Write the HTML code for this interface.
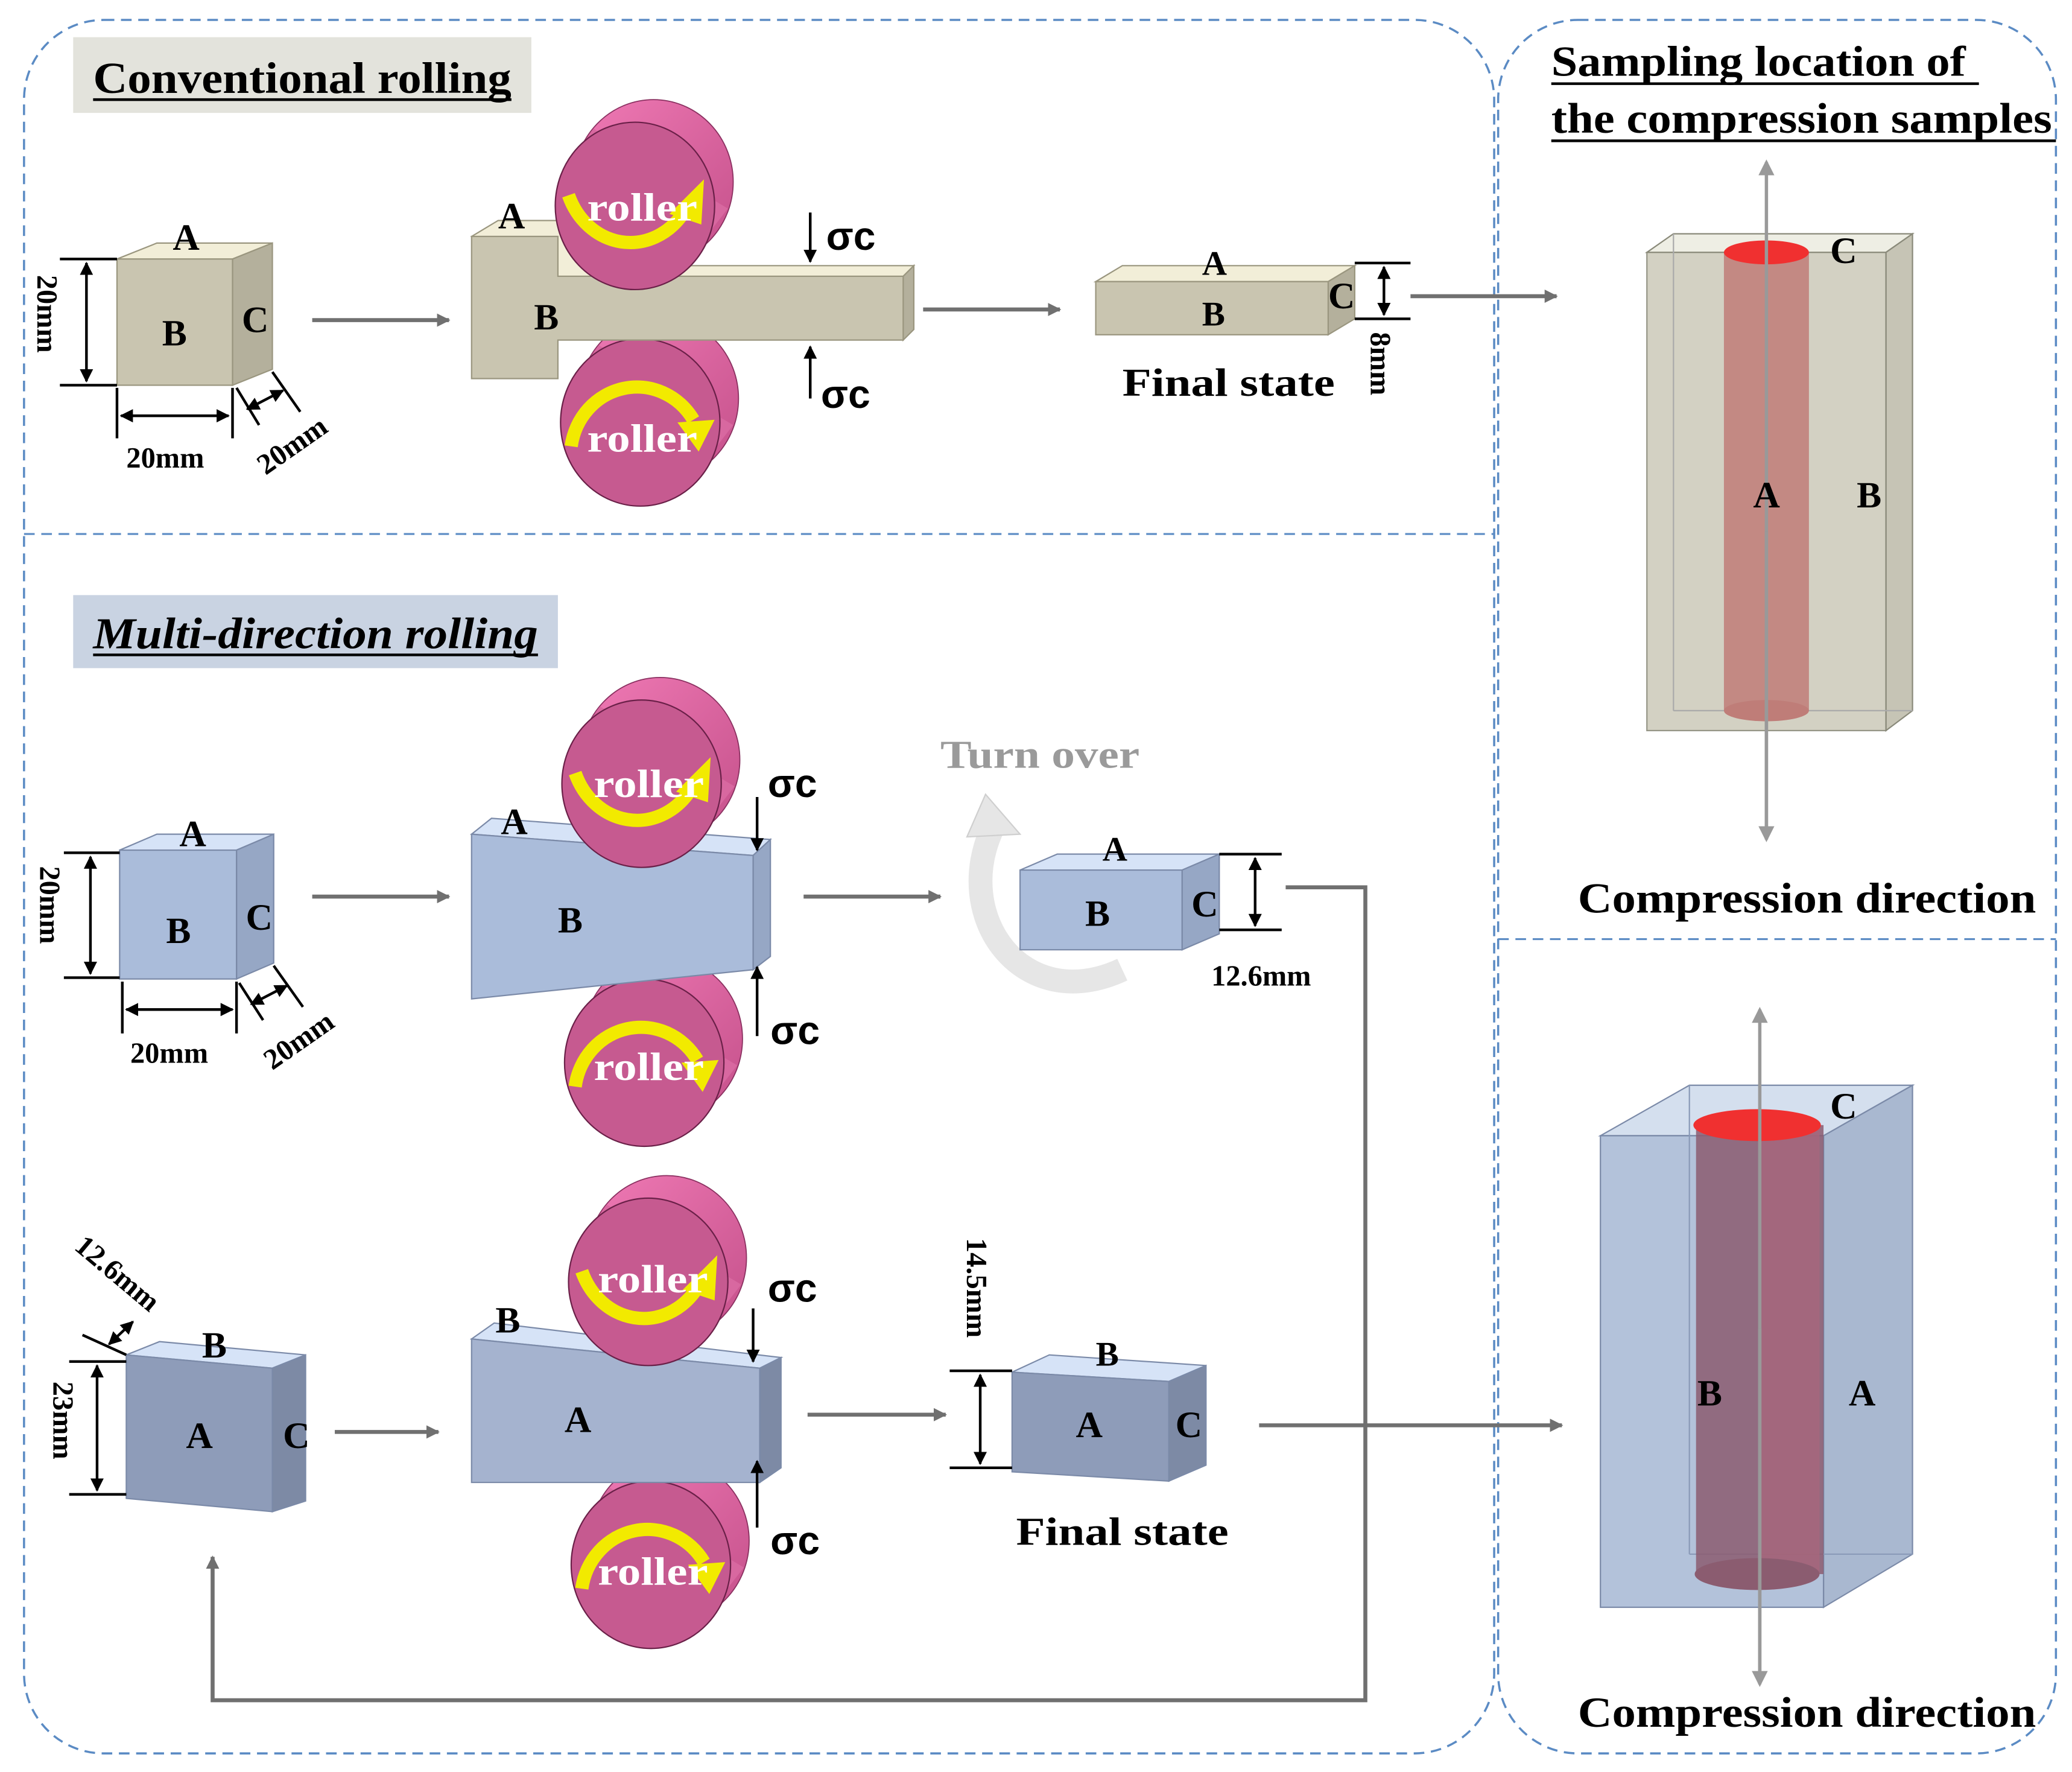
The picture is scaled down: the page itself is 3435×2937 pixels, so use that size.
<!DOCTYPE html>
<html><head><meta charset="utf-8"><style>
html,body{margin:0;padding:0;background:#fff;}
svg{display:block;}
text{font-family:"Liberation Serif",serif;font-weight:bold;}
.s{font-family:"Liberation Sans",sans-serif;}
</style></head><body>
<svg width="3435" height="2937" viewBox="0 0 1560 1334" xmlns="http://www.w3.org/2000/svg">
<defs>
<marker id="ah" markerWidth="10" markerHeight="10" refX="9" refY="5" orient="auto" markerUnits="userSpaceOnUse"><path d="M0,0 L10,5 L0,10 z" fill="#707070"/></marker>
<marker id="ak" markerWidth="10" markerHeight="10" refX="9" refY="5" orient="auto-start-reverse" markerUnits="userSpaceOnUse"><path d="M0,0 L10,5 L0,10 z" fill="#000"/></marker>
<marker id="ag" markerWidth="12" markerHeight="12" refX="10" refY="6" orient="auto" markerUnits="userSpaceOnUse"><path d="M0,0 L12,6 L0,12 z" fill="#999"/></marker>
<linearGradient id="bk" x1="0" y1="0" x2="1" y2="1"><stop offset="0" stop-color="#f07ab5"/><stop offset="1" stop-color="#c4508a"/></linearGradient>
<g id="roll">
 <ellipse cx="14" cy="-18" rx="60" ry="62" fill="url(#bk)" stroke="#8a3060" stroke-width="0.8"/>
 <polygon points="-45,-40 -31,-58 70,2 56,20" fill="#d868a0"/>
 <ellipse cx="0" cy="0" rx="60" ry="63" fill="#c65a90" stroke="#6a2048" stroke-width="1"/>
</g>
<g id="arrT">
 <path d="M-50,-8 A50,56 0 0 0 36,6" fill="none" stroke="#f2ea00" stroke-width="10"/>
 <polygon points="26,6 52,-20 50,14" fill="#f2ea00"/>
</g>
<g id="arrB">
 <path d="M-52,18 A50,52 0 0 1 40,-2" fill="none" stroke="#f2ea00" stroke-width="10"/>
 <polygon points="28,0 56,-2 44,22" fill="#f2ea00"/>
</g>
</defs>
<rect width="1560" height="1334" fill="#fff"/>
<!-- panels -->
<rect x="18" y="15" width="1107" height="1305" rx="60" fill="none" stroke="#5b8bc4" stroke-width="1.6" stroke-dasharray="8,5"/>
<rect x="1128" y="15" width="420" height="1305" rx="60" fill="none" stroke="#5b8bc4" stroke-width="1.6" stroke-dasharray="8,5"/>
<line x1="18" y1="402" x2="1125" y2="402" stroke="#5b8bc4" stroke-width="1.4" stroke-dasharray="8,5"/>
<line x1="1128" y1="707" x2="1548" y2="707" stroke="#5b8bc4" stroke-width="1.4" stroke-dasharray="8,5"/>

<!-- titles -->
<rect x="55" y="28" width="345" height="57" fill="#e3e3dc"/>
<text x="70" y="70" font-size="33" textLength="315" lengthAdjust="spacingAndGlyphs">Conventional rolling</text>
<line x1="70" y1="75" x2="385" y2="75" stroke="#000" stroke-width="2"/>
<rect x="55" y="448" width="365" height="55" fill="#c9d3e2"/>
<text x="70" y="488" font-size="33" font-style="italic" textLength="335" lengthAdjust="spacingAndGlyphs">Multi-direction rolling</text>
<line x1="70" y1="493" x2="405" y2="493" stroke="#000" stroke-width="2"/>
<text x="1168" y="57" font-size="32" textLength="312" lengthAdjust="spacingAndGlyphs">Sampling location of</text>
<line x1="1168" y1="63" x2="1490" y2="63" stroke="#000" stroke-width="2"/>
<text x="1168" y="100" font-size="32" textLength="377" lengthAdjust="spacingAndGlyphs">the compression samples</text>
<line x1="1168" y1="106" x2="1548" y2="106" stroke="#000" stroke-width="2"/>

<!-- ===== Conventional ===== -->
<g stroke="#9a967f" stroke-width="1">
<polygon points="88,195 118,183 205,183 175,195" fill="#f2eed8"/>
<polygon points="175,195 205,183 205,278 175,290" fill="#b4b09c"/>
<rect x="88" y="195" width="87" height="95" fill="#c9c5b0"/>
</g>
<text x="130" y="188" font-size="28">A</text>
<text x="122" y="260" font-size="28">B</text>
<text x="182" y="250" font-size="28">C</text>
<g stroke="#000" stroke-width="2" fill="none">
<line x1="45" y1="195" x2="88" y2="195"/><line x1="45" y1="290" x2="88" y2="290"/>
<line x1="65" y1="198" x2="65" y2="287" marker-start="url(#ak)" marker-end="url(#ak)"/>
<line x1="88" y1="292" x2="88" y2="330"/><line x1="175" y1="292" x2="175" y2="330"/>
<line x1="91" y1="313" x2="172" y2="313" marker-start="url(#ak)" marker-end="url(#ak)"/>
<line x1="178" y1="292" x2="195" y2="320"/><line x1="205" y1="280" x2="226" y2="310"/>
<line x1="186" y1="308" x2="213" y2="294" marker-start="url(#ak)" marker-end="url(#ak)"/>
</g>
<text x="0" y="0" font-size="22" transform="translate(28,207) rotate(90)">20mm</text>
<text x="95" y="352" font-size="22">20mm</text>
<text x="0" y="0" font-size="22" transform="translate(200,358) rotate(-35)">20mm</text>
<line x1="235" y1="241" x2="338" y2="241" stroke="#707070" stroke-width="3" marker-end="url(#ah)"/>

<!-- conventional slab -->
<use href="#roll" x="482" y="318"/>
<g stroke="#9a967f" stroke-width="1">
<polygon points="355,178 375,166 440,166 440,200 688,200 680,208 420,208" fill="#f2eed8"/>
<polygon points="680,208 688,200 688,248 680,256" fill="#b4b09c"/>
<polygon points="355,178 420,178 420,208 680,208 680,256 420,256 420,285 355,285" fill="#c9c5b0"/>
</g>
<use href="#roll" x="478" y="155"/>
<use href="#arrT" x="478" y="155"/>
<use href="#arrB" x="482" y="318"/>
<text x="442" y="166" font-size="30" fill="#fff" textLength="83" lengthAdjust="spacingAndGlyphs">roller</text>
<text x="442" y="340" font-size="30" fill="#fff" textLength="83" lengthAdjust="spacingAndGlyphs">roller</text>
<text x="375" y="172" font-size="28">A</text>
<text x="402" y="248" font-size="28">B</text>
<line x1="610" y1="160" x2="610" y2="197" stroke="#000" stroke-width="2" marker-end="url(#ak)"/>
<line x1="610" y1="300" x2="610" y2="261" stroke="#000" stroke-width="2" marker-end="url(#ak)"/>
<text x="622" y="188" font-size="30" class="s">σc</text>
<text x="618" y="307" font-size="30" class="s">σc</text>
<line x1="695" y1="233" x2="798" y2="233" stroke="#707070" stroke-width="3" marker-end="url(#ah)"/>

<!-- conventional final -->
<g stroke="#9a967f" stroke-width="1">
<polygon points="825,212 845,200 1020,200 1000,212" fill="#f2eed8"/>
<polygon points="1000,212 1020,200 1020,240 1000,252" fill="#b4b09c"/>
<rect x="825" y="212" width="175" height="40" fill="#c9c5b0"/>
</g>
<text x="905" y="207" font-size="26">A</text>
<text x="905" y="245" font-size="26">B</text>
<text x="1000" y="232" font-size="28">C</text>
<g stroke="#000" stroke-width="2"><line x1="1020" y1="198" x2="1062" y2="198"/><line x1="1020" y1="240" x2="1062" y2="240"/>
<line x1="1042" y1="201" x2="1042" y2="237" marker-start="url(#ak)" marker-end="url(#ak)"/></g>
<text x="0" y="0" font-size="22" transform="translate(1032,250) rotate(90)">8mm</text>
<text x="845" y="298" font-size="30" textLength="160" lengthAdjust="spacingAndGlyphs">Final state</text>
<line x1="1062" y1="223" x2="1172" y2="223" stroke="#707070" stroke-width="3" marker-end="url(#ah)"/>

<!-- ===== Multi row 1 ===== -->
<g stroke="#7b8aa8" stroke-width="1">
<polygon points="90,640 118,628 206,628 178,640" fill="#d6e3f7"/>
<polygon points="178,640 206,628 206,725 178,737" fill="#96a7c5"/>
<rect x="90" y="640" width="88" height="97" fill="#aabcda"/>
</g>
<text x="135" y="637" font-size="28">A</text>
<text x="125" y="710" font-size="28">B</text>
<text x="185" y="700" font-size="28">C</text>
<g stroke="#000" stroke-width="2" fill="none">
<line x1="48" y1="642" x2="90" y2="642"/><line x1="48" y1="736" x2="90" y2="736"/>
<line x1="68" y1="645" x2="68" y2="733" marker-start="url(#ak)" marker-end="url(#ak)"/>
<line x1="92" y1="739" x2="92" y2="778"/><line x1="178" y1="739" x2="178" y2="778"/>
<line x1="95" y1="760" x2="175" y2="760" marker-start="url(#ak)" marker-end="url(#ak)"/>
<line x1="180" y1="740" x2="198" y2="768"/><line x1="206" y1="727" x2="228" y2="758"/>
<line x1="189" y1="756" x2="216" y2="742" marker-start="url(#ak)" marker-end="url(#ak)"/>
</g>
<text x="0" y="0" font-size="22" transform="translate(30,652) rotate(90)">20mm</text>
<text x="98" y="800" font-size="22">20mm</text>
<text x="0" y="0" font-size="22" transform="translate(205,806) rotate(-35)">20mm</text>
<line x1="235" y1="675" x2="338" y2="675" stroke="#707070" stroke-width="3" marker-end="url(#ah)"/>

<use href="#roll" x="485" y="800"/>
<g stroke="#7b8aa8" stroke-width="1">
<polygon points="355,628 370,616 580,632 567,644" fill="#d6e3f7"/>
<polygon points="567,644 580,632 580,720 567,730" fill="#96a7c5"/>
<polygon points="355,628 567,644 567,730 355,752" fill="#aabcda"/>
</g>
<use href="#roll" x="483" y="590"/>
<use href="#arrT" x="483" y="590"/>
<use href="#arrB" x="485" y="800"/>
<text x="447" y="600" font-size="30" fill="#fff" textLength="83" lengthAdjust="spacingAndGlyphs">roller</text>
<text x="447" y="813" font-size="30" fill="#fff" textLength="83" lengthAdjust="spacingAndGlyphs">roller</text>
<text x="377" y="628" font-size="28">A</text>
<text x="420" y="702" font-size="28">B</text>
<line x1="570" y1="600" x2="570" y2="640" stroke="#000" stroke-width="2" marker-end="url(#ak)"/>
<line x1="570" y1="780" x2="570" y2="728" stroke="#000" stroke-width="2" marker-end="url(#ak)"/>
<text x="578" y="600" font-size="30" class="s">σc</text>
<text x="580" y="786" font-size="30" class="s">σc</text>
<line x1="605" y1="675" x2="708" y2="675" stroke="#707070" stroke-width="3" marker-end="url(#ah)"/>

<text x="708" y="578" font-size="30" fill="#9a9a9a" textLength="150" lengthAdjust="spacingAndGlyphs">Turn over</text>
<path d="M845,730 C770,765 715,690 748,622" fill="none" stroke="#e6e6e6" stroke-width="18"/>
<polygon points="728,630 742,598 768,628" fill="#e6e6e6" stroke="#cfcfcf"/>
<g stroke="#7b8aa8" stroke-width="1">
<polygon points="768,655 796,643 918,643 890,655" fill="#d6e3f7"/>
<polygon points="890,655 918,643 918,703 890,715" fill="#96a7c5"/>
<rect x="768" y="655" width="122" height="60" fill="#aabcda"/>
</g>
<text x="830" y="648" font-size="26">A</text>
<text x="817" y="697" font-size="28">B</text>
<text x="897" y="690" font-size="28">C</text>
<g stroke="#000" stroke-width="2"><line x1="918" y1="643" x2="965" y2="643"/><line x1="918" y1="700" x2="965" y2="700"/>
<line x1="945" y1="646" x2="945" y2="697" marker-start="url(#ak)" marker-end="url(#ak)"/></g>
<text x="912" y="742" font-size="22">12.6mm</text>
<polyline points="968,668 1028,668 1028,1280 160,1280 160,1172" fill="none" stroke="#707070" stroke-width="3" marker-end="url(#ah)"/>

<!-- ===== Multi row 2 ===== -->
<g stroke="#7b8aa8" stroke-width="1">
<polygon points="95,1020 120,1010 230,1020 205,1030" fill="#d6e3f7"/>
<polygon points="205,1030 230,1020 230,1130 205,1138" fill="#7d8aa5"/>
<polygon points="95,1020 205,1030 205,1138 95,1128" fill="#8e9cb9"/>
</g>
<text x="152" y="1022" font-size="28">B</text>
<text x="140" y="1090" font-size="28">A</text>
<text x="213" y="1090" font-size="28">C</text>
<g stroke="#000" stroke-width="2" fill="none">
<line x1="52" y1="1025" x2="95" y2="1025"/><line x1="52" y1="1125" x2="95" y2="1125"/>
<line x1="73" y1="1028" x2="73" y2="1122" marker-start="url(#ak)" marker-end="url(#ak)"/>
<line x1="62" y1="1005" x2="95" y2="1020"/>
<line x1="82" y1="1012" x2="100" y2="995" marker-start="url(#ak)" marker-end="url(#ak)"/>
</g>
<text x="0" y="0" font-size="22" transform="translate(55,940) rotate(40)">12.6mm</text>
<text x="0" y="0" font-size="22" transform="translate(40,1040) rotate(90)">23mm</text>
<line x1="252" y1="1078" x2="330" y2="1078" stroke="#707070" stroke-width="3" marker-end="url(#ah)"/>

<use href="#roll" x="490" y="1178"/>
<g stroke="#7b8aa8" stroke-width="1">
<polygon points="355,1008 372,996 588,1022 572,1030" fill="#d6e3f7"/>
<polygon points="572,1030 588,1022 588,1105 572,1116" fill="#7d8aa5"/>
<polygon points="355,1008 572,1030 572,1116 355,1116" fill="#a5b3cf"/>
</g>
<use href="#roll" x="488" y="965"/>
<use href="#arrT" x="488" y="965"/>
<use href="#arrB" x="490" y="1178"/>
<text x="450" y="973" font-size="30" fill="#fff" textLength="83" lengthAdjust="spacingAndGlyphs">roller</text>
<text x="450" y="1193" font-size="30" fill="#fff" textLength="83" lengthAdjust="spacingAndGlyphs">roller</text>
<text x="373" y="1003" font-size="28">B</text>
<text x="425" y="1078" font-size="28">A</text>
<line x1="567" y1="985" x2="567" y2="1025" stroke="#000" stroke-width="2" marker-end="url(#ak)"/>
<line x1="570" y1="1150" x2="570" y2="1100" stroke="#000" stroke-width="2" marker-end="url(#ak)"/>
<text x="578" y="980" font-size="30" class="s">σc</text>
<text x="580" y="1170" font-size="30" class="s">σc</text>
<line x1="608" y1="1065" x2="712" y2="1065" stroke="#707070" stroke-width="3" marker-end="url(#ah)"/>

<g stroke="#7b8aa8" stroke-width="1">
<polygon points="762,1033 790,1020 908,1028 880,1040" fill="#d6e3f7"/>
<polygon points="880,1040 908,1028 908,1103 880,1115" fill="#7d8aa5"/>
<polygon points="762,1033 880,1040 880,1115 762,1108" fill="#8e9cb9"/>
</g>
<text x="825" y="1028" font-size="26">B</text>
<text x="810" y="1082" font-size="28">A</text>
<text x="885" y="1082" font-size="28">C</text>
<g stroke="#000" stroke-width="2"><line x1="715" y1="1032" x2="762" y2="1032"/><line x1="715" y1="1105" x2="762" y2="1105"/>
<line x1="738" y1="1035" x2="738" y2="1102" marker-start="url(#ak)" marker-end="url(#ak)"/></g>
<text x="0" y="0" font-size="22" transform="translate(728,932) rotate(90)">14.5mm</text>
<text x="765" y="1163" font-size="30" textLength="160" lengthAdjust="spacingAndGlyphs">Final state</text>
<line x1="948" y1="1073" x2="1176" y2="1073" stroke="#707070" stroke-width="3" marker-end="url(#ah)"/>

<!-- ===== right samples ===== -->
<g>
<polygon points="1240,190 1260,176 1440,176 1420,190" fill="#eeeee4" stroke="#8a8a7a"/>
<polygon points="1420,190 1440,176 1440,535 1420,550" fill="#c6c4b5" stroke="#8a8a7a"/>
<rect x="1240" y="190" width="180" height="360" fill="#cfcdbd" stroke="#8a8a7a" opacity="0.9"/>
<line x1="1260" y1="176" x2="1260" y2="535" stroke="#aaa"/><line x1="1260" y1="535" x2="1440" y2="535" stroke="#aaa"/>
<rect x="1298" y="190" width="64" height="345" fill="#bf7d78" opacity="0.85"/>
<ellipse cx="1330" cy="535" rx="32" ry="8" fill="#bf7d78"/>
<ellipse cx="1330" cy="190" rx="32" ry="9" fill="#f03030"/>
</g>
<line x1="1330" y1="630" x2="1330" y2="122" stroke="#999" stroke-width="2.5" marker-end="url(#ag)"/>
<line x1="1330" y1="400" x2="1330" y2="632" stroke="#999" stroke-width="2.5" marker-end="url(#ag)"/>
<text x="1378" y="198" font-size="28">C</text>
<text x="1320" y="382" font-size="28">A</text>
<text x="1398" y="382" font-size="28">B</text>
<text x="1188" y="687" font-size="32" textLength="345" lengthAdjust="spacingAndGlyphs">Compression direction</text>

<g>
<polygon points="1205,855 1272,817 1440,817 1373,855" fill="#d4dfee" stroke="#7b8aa8"/>
<polygon points="1373,855 1440,817 1440,1170 1373,1210" fill="#a9b8d0" stroke="#7b8aa8"/>
<rect x="1205" y="855" width="168" height="355" fill="#b3c2da" stroke="#7b8aa8"/>
<line x1="1272" y1="817" x2="1272" y2="1170" stroke="#8a9ab8"/><line x1="1272" y1="1170" x2="1440" y2="1170" stroke="#8a9ab8"/>
<rect x="1277" y="847" width="96" height="338" fill="#8b5c70" opacity="0.85"/>
<rect x="1325" y="847" width="45" height="338" fill="#a7677c" opacity="0.8"/>
<ellipse cx="1323" cy="1185" rx="47" ry="12" fill="#8b5c70"/>
<ellipse cx="1323" cy="847" rx="48" ry="12" fill="#f03030"/>
</g>
<line x1="1325" y1="1265" x2="1325" y2="760" stroke="#999" stroke-width="2.5" marker-end="url(#ag)"/>
<line x1="1325" y1="1000" x2="1325" y2="1268" stroke="#999" stroke-width="2.5" marker-end="url(#ag)"/>
<text x="1378" y="842" font-size="28">C</text>
<text x="1278" y="1058" font-size="28">B</text>
<text x="1392" y="1058" font-size="28">A</text>
<text x="1188" y="1300" font-size="32" textLength="345" lengthAdjust="spacingAndGlyphs">Compression direction</text>
</svg>
</body></html>
